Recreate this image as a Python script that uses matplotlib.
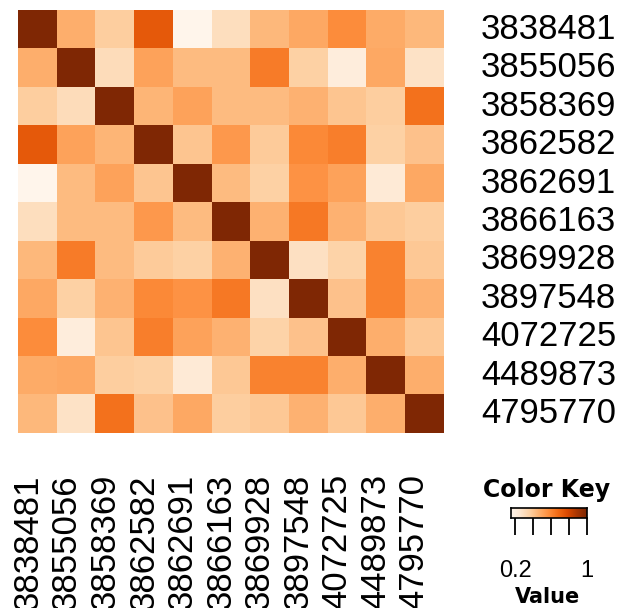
import numpy as np
import matplotlib.pyplot as plt

labels = ['3838481', '3855056', '3858369', '3862582', '3862691', '3866163',
          '3869928', '3897548', '4072725', '4489873', '4795770']

# upper triangle of the (symmetric) similarity matrix, row by row
upper = [
    [1.00, 0.47, 0.37, 0.73, 0.155, 0.30, 0.44, 0.49, 0.58, 0.48, 0.44],
    [1.00, 0.31, 0.51, 0.43, 0.43, 0.63, 0.36, 0.21, 0.49, 0.28],
    [1.00, 0.45, 0.51, 0.43, 0.43, 0.46, 0.40, 0.37, 0.66],
    [1.00, 0.40, 0.54, 0.38, 0.59, 0.62, 0.36, 0.41],
    [1.00, 0.43, 0.36, 0.56, 0.51, 0.23, 0.49],
    [1.00, 0.46, 0.64, 0.46, 0.39, 0.37],
    [1.00, 0.29, 0.35, 0.61, 0.39],
    [1.00, 0.41, 0.61, 0.46],
    [1.00, 0.47, 0.39],
    [1.00, 0.47],
    [1.00],
]

n = len(labels)
mat = np.zeros((n, n))
for i, row in enumerate(upper):
    for k, v in enumerate(row):
        mat[i, i + k] = v
        mat[i + k, i] = v

vmin, vmax = mat.min(), mat.max()
W, H = 619, 608
fig = plt.figure(figsize=(W / 100, H / 100), dpi=100)

def px_axes(x0, y0, x1, y1):
    return fig.add_axes([x0 / W, 1 - y1 / H, (x1 - x0) / W, (y1 - y0) / H])

# main heatmap
ax = px_axes(18, 10, 443, 433)
ax.imshow(mat, cmap='Oranges', vmin=vmin, vmax=vmax, aspect='auto',
          interpolation='nearest', extent=(0, n, n, 0))
ax.set_xlim(0, n)
ax.set_ylim(n, 0)
ax.axis('off')

lab_font = dict(family='Liberation Sans', fontsize=25)
for i, lab in enumerate(labels):
    # row labels on the right
    ax.text(481 / W, 1 - (10 + (i + 0.5) * 423 / n) / H, lab, transform=fig.transFigure,
            ha='left', va='center', **lab_font)
    # column labels below, rotated
    ax.text((18 + (i + 0.5) * 425 / n) / W, 1 - 474 / H, lab, transform=fig.transFigure,
            rotation=90, rotation_mode='anchor', ha='right', va='baseline', **lab_font)

# color key
kax = px_axes(511, 508, 587, 518)
grad = np.linspace(vmin, vmax, 256).reshape(1, -1)
kax.imshow(grad, cmap='Oranges', vmin=vmin, vmax=vmax, aspect='auto',
           extent=(vmin, vmax, 0, 1))
kax.set_xlim(vmin, vmax)
kax.set_yticks([])
kax.set_xticks([0.2, 0.4, 0.6, 0.8, 1.0])
kax.set_xticklabels(['0.2', '', '', '', '1'], family='Liberation Sans', fontsize=17)
kax.tick_params(axis='x', direction='out', length=12, width=1.3, pad=18)
for s in kax.spines.values():
    s.set_linewidth(1.2)

fig.text(547 / W, 1 - 497 / H, 'Color Key', ha='center', va='baseline',
         fontsize=17, fontweight='bold', family='DejaVu Sans')
fig.text(548 / W, 1 - 603 / H, 'Value', ha='center', va='baseline',
         fontsize=15, fontweight='bold', family='DejaVu Sans')

fig.savefig('out.png', dpi=100)
